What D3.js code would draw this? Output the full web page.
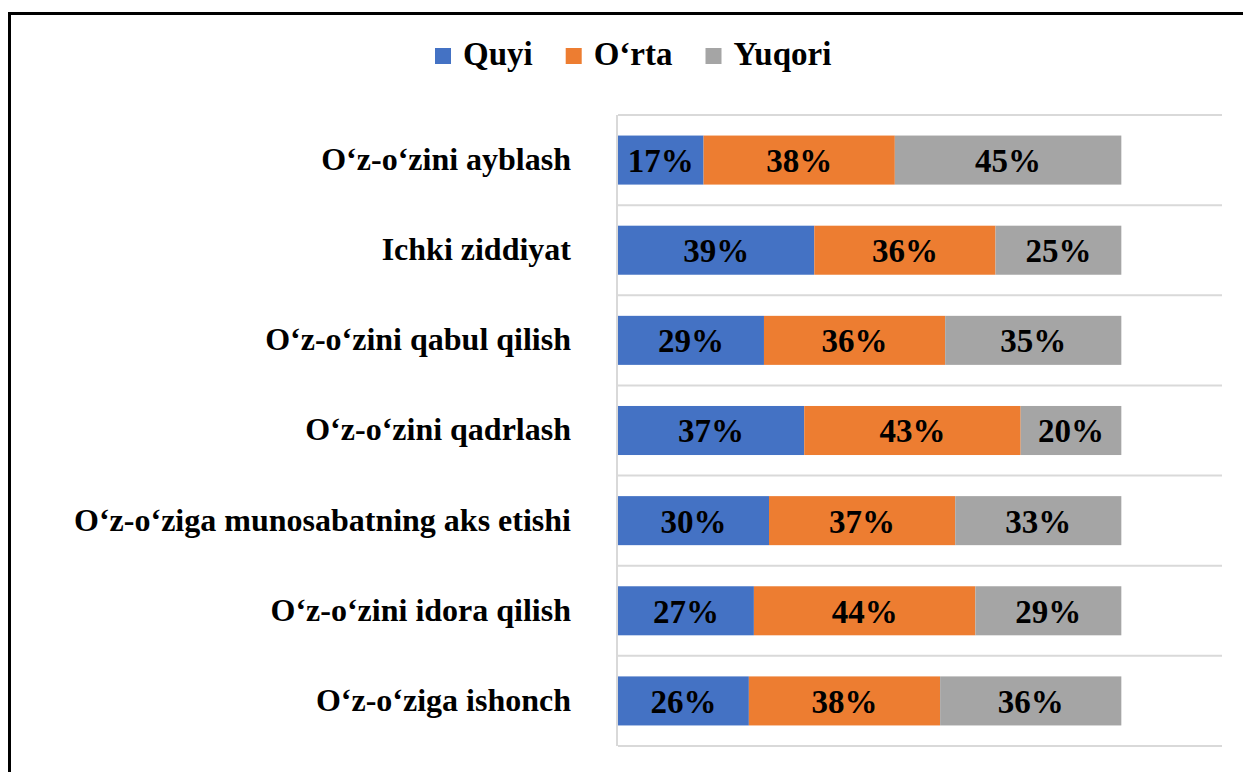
<!DOCTYPE html>
<html>
<head>
<meta charset="utf-8">
<script src="https://cdn.jsdelivr.net/npm/d3@7"></script>
<style>
  body { margin: 0; background: #fff; }
  text { font-family: "Liberation Serif", "Times New Roman", serif; font-weight: bold; fill: #000; }
</style>
</head>
<body>
<div id="chart"></div>
<script>
// data
var categories = [
  "O‘z-o‘zini ayblash",
  "Ichki ziddiyat",
  "O‘z-o‘zini qabul qilish",
  "O‘z-o‘zini qadrlash",
  "O‘z-o‘ziga munosabatning aks etishi",
  "O‘z-o‘zini idora qilish",
  "O‘z-o‘ziga ishonch"
];
var seriesNames = ["Quyi", "O‘rta", "Yuqori"];
var quyi   = [17, 39, 29, 37, 30, 27, 26];
var orta   = [38, 36, 36, 43, 37, 44, 38];
var yuqori = [45, 25, 35, 20, 33, 29, 36];
var colors = ["#4472C4", "#ED7D31", "#A5A5A5"];

var W = 1243, H = 772;
var plot = { left: 618, right: 1222, top: 115, bottom: 746 };

var svg = d3.select("#chart").append("svg")
  .attr("width", W)
  .attr("height", H);

// outer frame
svg.append("rect")
  .attr("x", 9.5).attr("y", 13.5)
  .attr("width", W + 20).attr("height", H + 20)
  .attr("fill", "none")
  .attr("stroke", "#000")
  .attr("stroke-width", 3);

var rows = categories.map(function (c, i) {
  return { name: c, values: [quyi[i], orta[i], yuqori[i]] };
});

var x = d3.scaleLinear().domain([0, 120]).range([plot.left, plot.right]);
var p = 0.456;
var y = d3.scaleBand().domain(categories)
  .range([plot.top, plot.bottom])
  .paddingInner(p).paddingOuter(p / 2);
var color = d3.scaleOrdinal().domain(seriesNames).range(colors);

// horizontal separators
var lines = categories.map(function (c) { return y(c) - y.step() * p / 2; });
lines.push(plot.bottom);
svg.append("g").selectAll("line")
  .data(lines)
  .enter().append("line")
  .attr("x1", plot.left).attr("x2", plot.right)
  .attr("y1", function (d) { return d; })
  .attr("y2", function (d) { return d; })
  .attr("stroke", "#D9D9D9")
  .attr("stroke-width", 2);

// vertical axis line
svg.append("line")
  .attr("x1", plot.left - 1).attr("x2", plot.left - 1)
  .attr("y1", plot.top).attr("y2", plot.bottom)
  .attr("stroke", "#D9D9D9")
  .attr("stroke-width", 2);

// stacked segments
var stack = d3.stack()
  .keys([0, 1, 2])
  .value(function (d, k) { return d.values[k]; });
var layers = stack(rows);

var g = svg.append("g").selectAll("g")
  .data(layers)
  .enter().append("g")
  .attr("fill", function (d) { return colors[d.key]; });

g.selectAll("rect")
  .data(function (d) { return d; })
  .enter().append("rect")
  .attr("x", function (d) { return x(d[0]); })
  .attr("y", function (d) { return y(d.data.name); })
  .attr("width", function (d) { return x(d[1]) - x(d[0]); })
  .attr("height", y.bandwidth());

g.selectAll("text")
  .data(function (d) { return d; })
  .enter().append("text")
  .attr("x", function (d) { return (x(d[0]) + x(d[1])) / 2; })
  .attr("y", function (d) { return y(d.data.name) + y.bandwidth() / 2; })
  .attr("dy", "0.36em")
  .attr("text-anchor", "middle")
  .style("font-size", "33px")
  .text(function (d) { return (d[1] - d[0]) + "%"; });

// category labels
svg.append("g").selectAll("text")
  .data(categories)
  .enter().append("text")
  .attr("x", 571)
  .attr("y", function (d) { return y(d) + y.bandwidth() / 2; })
  .attr("dy", "0.31em")
  .attr("text-anchor", "end")
  .style("font-size", "32px")
  .text(function (d) { return d; });

// legend
var legend = svg.append("g");
var lx = 435;
seriesNames.forEach(function (s) {
  legend.append("rect")
    .attr("x", lx).attr("y", 48)
    .attr("width", 16).attr("height", 16)
    .attr("fill", color(s));
  var t = legend.append("text")
    .attr("x", lx + 28).attr("y", 65)
    .style("font-size", "33px")
    .text(s);
  lx += 28 + t.node().getComputedTextLength() + 33;
});
</script>
</body>
</html>
